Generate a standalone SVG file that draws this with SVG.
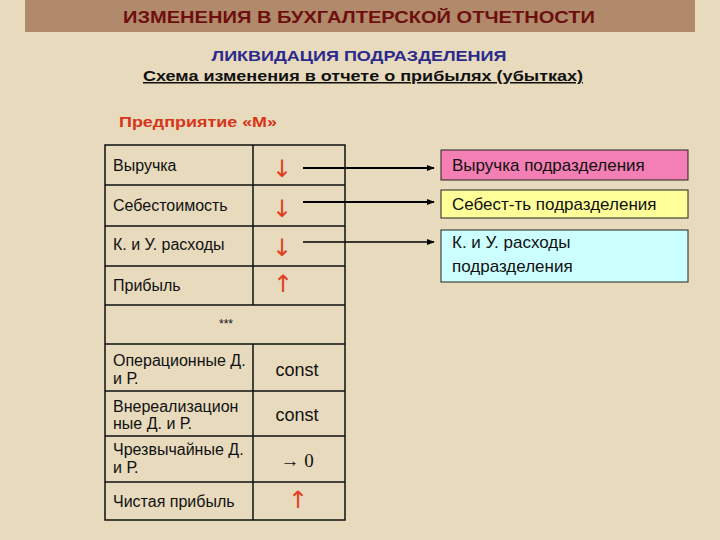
<svg xmlns="http://www.w3.org/2000/svg" width="720" height="540" viewBox="0 0 720 540">
<defs>
<style>
.t{font-family:"Liberation Sans",Arial,sans-serif;font-size:16px;fill:#111}
.b{font-family:"Liberation Sans",Arial,sans-serif;font-size:17px;fill:#111}
.ra{font-family:"DejaVu Sans",sans-serif;font-size:24px;fill:#e0401e}
.grid{stroke:#111;stroke-width:1.5;fill:none}
.box{stroke:#222;stroke-width:1}
.con{stroke:#000;fill:none}
</style>
<marker id="ah" viewBox="0 0 10 10" refX="9" refY="5" markerWidth="8" markerHeight="8" markerUnits="userSpaceOnUse" orient="auto">
<path d="M0,1 L10,5 L0,9 Z" fill="#000"/>
</marker>
</defs>
<rect width="720" height="540" fill="#e7dabd"/>
<g id="header">
<rect x="25" y="0" width="670" height="32" fill="#b08a6a"/>
<text x="359" y="23" text-anchor="middle" font-family="Liberation Sans,Arial,sans-serif" font-size="17" font-weight="bold" fill="#6e0f0f" textLength="472" lengthAdjust="spacingAndGlyphs">ИЗМЕНЕНИЯ В БУХГАЛТЕРСКОЙ ОТЧЕТНОСТИ</text>
</g>
<g id="titles">
<text x="359" y="61" text-anchor="middle" font-family="Liberation Sans,Arial,sans-serif" font-size="15" font-weight="bold" fill="#2c2a8c" textLength="295" lengthAdjust="spacingAndGlyphs">ЛИКВИДАЦИЯ ПОДРАЗДЕЛЕНИЯ</text>
<text x="363" y="81" text-anchor="middle" font-family="Liberation Sans,Arial,sans-serif" font-size="15" font-weight="bold" fill="#111" text-decoration="underline" textLength="440" lengthAdjust="spacingAndGlyphs">Схема изменения  в отчете о прибылях (убытках)</text>
<text x="119" y="127" font-family="Liberation Sans,Arial,sans-serif" font-size="15" font-weight="bold" fill="#d8341a" textLength="158" lengthAdjust="spacingAndGlyphs">Предприятие «М»</text>
</g>
<g id="table">
<rect x="105" y="145" width="240" height="375" class="grid" stroke-width="2"/>
<path class="grid" d="M105,185H345M105,226H345M105,266H345M105,305H345M105,344H345M105,391H345M105,436H345M105,482H345M253,145V305M253,344V520"/>
<text class="t" x="113" y="171">Выручка</text>
<text class="t" x="113" y="211">Себестоимость</text>
<text class="t" x="113" y="250">К. и У. расходы</text>
<text class="t" x="113" y="291">Прибыль</text>
<text class="ra" x="282" y="177" text-anchor="middle">↓</text>
<text class="ra" x="282" y="217" text-anchor="middle">↓</text>
<text class="ra" x="282" y="256" text-anchor="middle">↓</text>
<text class="ra" x="283" y="292" text-anchor="middle">↑</text>
<text x="226" y="328" text-anchor="middle" font-family="Liberation Sans,Arial,sans-serif" font-size="12" fill="#111">***</text>
<text class="t" x="113" y="366">Операционные Д.</text>
<text class="t" x="113" y="384">и Р.</text>
<text class="t" x="113" y="412">Внереализацион</text>
<text class="t" x="113" y="429">ные Д. и Р.</text>
<text class="t" x="113" y="455">Чрезвычайные Д.</text>
<text class="t" x="113" y="473">и Р.</text>
<text class="t" x="113" y="507">Чистая прибыль</text>
<text x="297" y="376" text-anchor="middle" font-family="Liberation Sans,Arial,sans-serif" font-size="18" fill="#111">const</text>
<text x="297" y="421" text-anchor="middle" font-family="Liberation Sans,Arial,sans-serif" font-size="18" fill="#111">const</text>
<text x="297" y="467" text-anchor="middle" font-family="Liberation Serif,serif" font-size="19" fill="#111">→ 0</text>
<text class="ra" x="298" y="508" text-anchor="middle">↑</text>
</g>
<g id="connectors">
<line class="con" x1="303" y1="168" x2="434" y2="168" stroke-width="2" marker-end="url(#ah)"/>
<line class="con" x1="303" y1="202" x2="434" y2="202" stroke-width="2" marker-end="url(#ah)"/>
<line class="con" x1="303" y1="242" x2="434" y2="242" stroke-width="1.3" marker-end="url(#ah)"/>
</g>
<g id="box-revenue">
<rect class="box" x="441" y="150" width="247" height="30" fill="#f47fb4"/>
<text class="b" x="452" y="171">Выручка подразделения</text>
</g>
<g id="box-cost">
<rect class="box" x="441" y="190" width="247" height="28" fill="#ffff99"/>
<text class="b" x="452" y="210">Себест-ть подразделения</text>
</g>
<g id="box-expenses">
<rect class="box" x="441" y="230" width="247" height="52" fill="#ccffff"/>
<text class="b" x="452" y="248">К. и У. расходы</text>
<text class="b" x="452" y="272">подразделения</text>
</g>
</svg>
